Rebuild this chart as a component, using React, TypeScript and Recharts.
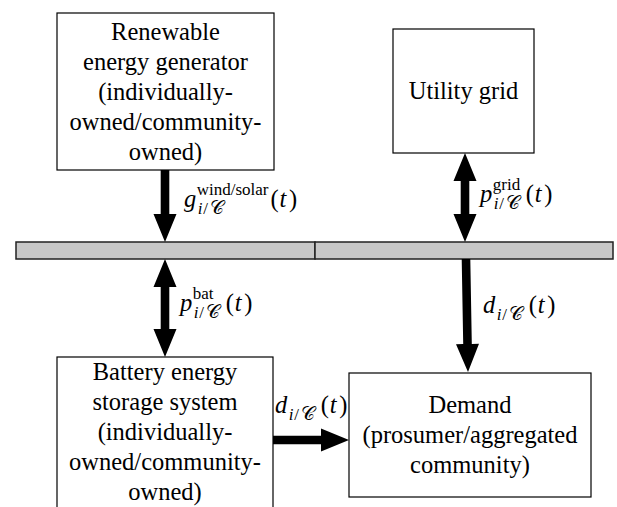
import React from 'react';
import { ComposedChart, XAxis, YAxis, ReferenceArea, ReferenceLine, ReferenceDot } from 'recharts';

// Diagram space follows the picture: x 0..617 left to right, y 0..507 top to bottom.
const W = 617;
const H = 507;

const boxNames = ['renewable', 'grid', 'battery', 'demand'];
const boxLeft = [57, 393, 57, 349];
const boxRight = [274, 534, 273, 591];
const boxTop = [13, 29, 357, 373];
const boxBottom = [170, 153, 525, 497];
const boxText = [
  ['Renewable', 'energy generator', '(individually-', 'owned/community-', 'owned)'],
  ['Utility grid'],
  ['Battery energy', 'storage system', '(individually-', 'owned/community-', 'owned)'],
  ['Demand', '(prosumer/aggregated', 'community)'],
];

// the bus bar, two joined sections
const busFrom = [16, 315];
const busTo = [315, 613];
const busTop = 242;
const busBottom = 259;

// power flows
const flowFrom = [[165, 170], [465, 153], [165, 259], [466, 259], [273, 440]];
const flowTo = [[165, 242], [465, 242], [165, 357], [468, 372], [349, 440]];
const flowBoth = [false, true, true, false, false];

// flow symbols
const symBase = ['g', 'p', 'p', 'd', 'd'];
const symSup = ['wind/solar', 'grid', 'bat', '', ''];
const symAt = [[184, 207], [480, 202], [180, 311], [483, 313], [275, 413]];

const SERIF = '"Liberation Serif", "Times New Roman", serif';
const FS = 24.5;
const SS = 17;

let ctx: CanvasRenderingContext2D | null = null;
function measure(t: string, font: string) {
  if (!ctx) ctx = document.createElement('canvas').getContext('2d');
  if (!ctx) return t.length * 8;
  ctx.font = font;
  return ctx.measureText(t).width;
}

function BoxShape(props: any) {
  const { x, y, width, height, lines } = props;
  const visBottom = Math.min(y + height, H);
  const mid = (y + visBottom) / 2;
  const lh = 30;
  const first = mid - ((lines.length - 1) * lh) / 2;
  return (
    <g>
      <rect x={x} y={y} width={width} height={height} fill="#fff" stroke="#000" strokeWidth={1.2} />
      {lines.map((l: string, i: number) => (
        <text key={i} x={x + width / 2} y={first + i * lh + 8} textAnchor="middle"
          fontFamily={SERIF} fontSize={FS} fill="#000">{l}</text>
      ))}
    </g>
  );
}

function Arrow(props: any) {
  const { x1, y1, x2, y2, both } = props;
  const dx = x2 - x1, dy = y2 - y1;
  const len = Math.hypot(dx, dy) || 1;
  const ux = dx / len, uy = dy / len;
  const nx = -uy, ny = ux;
  const hw = 4.3, hh = 11.5, hl = 28;
  const pt = (px: number, py: number, s: number) => `${px + nx * s},${py + ny * s}`;
  const b2x = x2 - ux * hl, b2y = y2 - uy * hl;
  const b1x = x1 + ux * hl, b1y = y1 + uy * hl;
  const pts = both
    ? [`${x1},${y1}`, pt(b1x, b1y, hh), pt(b1x, b1y, hw), pt(b2x, b2y, hw), pt(b2x, b2y, hh), `${x2},${y2}`,
       pt(b2x, b2y, -hh), pt(b2x, b2y, -hw), pt(b1x, b1y, -hw), pt(b1x, b1y, -hh)]
    : [pt(x1, y1, hw), pt(b2x, b2y, hw), pt(b2x, b2y, hh), `${x2},${y2}`, pt(b2x, b2y, -hh), pt(b2x, b2y, -hw), pt(x1, y1, -hw)];
  return <polygon points={pts.join(' ')} fill="#000" />;
}

// g^{sup}_{i/C}(t) drawn as one text element
function MathSymbol(props: any) {
  const { cx, cy, base, sup } = props;
  const baseW = measure(base, `italic ${FS}px ${SERIF}`);
  const sx = cx + baseW + 0.5;
  const supW = sup ? measure(sup, `${SS}px ${SERIF}`) : 0;
  const tx = sx + Math.max(supW, 31) + 2;
  return (
    <text fontFamily={SERIF} fill="#000">
      <tspan x={cx} y={cy} fontSize={FS} fontStyle="italic">{base}</tspan>
      {sup ? <tspan x={sx} y={cy - 12} fontSize={SS}>{sup}</tspan> : null}
      <tspan x={sx + 1} y={cy + 7} fontSize={SS} fontStyle="italic">i</tspan>
      <tspan x={sx + 6.5} y={cy + 7} fontSize={SS}>/</tspan>
      <tspan x={sx + 13} y={cy + 7} fontSize={SS + 2}>𝒞</tspan>
      <tspan x={tx} y={cy} fontSize={FS}>(</tspan>
      <tspan x={tx + 9} y={cy} fontSize={FS} fontStyle="italic">t</tspan>
      <tspan x={tx + 18.5} y={cy} fontSize={FS}>)</tspan>
    </text>
  );
}

export default function App() {
  return (
    <div style={{ width: W, height: H, background: '#fff' }}>
      <style>{'body{margin:0}'}</style>
      <ComposedChart width={W} height={H} data={[]} margin={{ top: 0, right: 0, bottom: 0, left: 0 }}>
        <XAxis type="number" dataKey="x" domain={[0, W]} allowDataOverflow hide />
        <YAxis type="number" dataKey="y" domain={[0, H]} reversed allowDataOverflow hide />

        {busFrom.map((bx, i) => (
          <ReferenceArea key={`bus${i}`} x1={bx} x2={busTo[i]} y1={busTop} y2={busBottom}
            fill="#c8c8c8" fillOpacity={1} stroke="#222" strokeWidth={1.5} ifOverflow="visible" />
        ))}

        {boxNames.map((n, i) => (
          <ReferenceArea key={n} x1={boxLeft[i]} x2={boxRight[i]} y1={boxTop[i]} y2={boxBottom[i]}
            ifOverflow="visible"
            shape={(p: any) => <BoxShape {...p} lines={boxText[i]} />} />
        ))}

        {flowFrom.map((f, i) => (
          <ReferenceLine key={`flow${i}`} ifOverflow="visible"
            segment={[{ x: f[0], y: f[1] }, { x: flowTo[i][0], y: flowTo[i][1] }]}
            shape={(p: any) => <Arrow {...p} both={flowBoth[i]} />} />
        ))}

        {symAt.map((s, i) => (
          <ReferenceDot key={`sym${i}`} x={s[0]} y={s[1]} r={0} ifOverflow="visible"
            shape={(p: any) => <MathSymbol cx={p.cx} cy={p.cy} base={symBase[i]} sup={symSup[i]} />} />
        ))}
      </ComposedChart>
    </div>
  );
}
